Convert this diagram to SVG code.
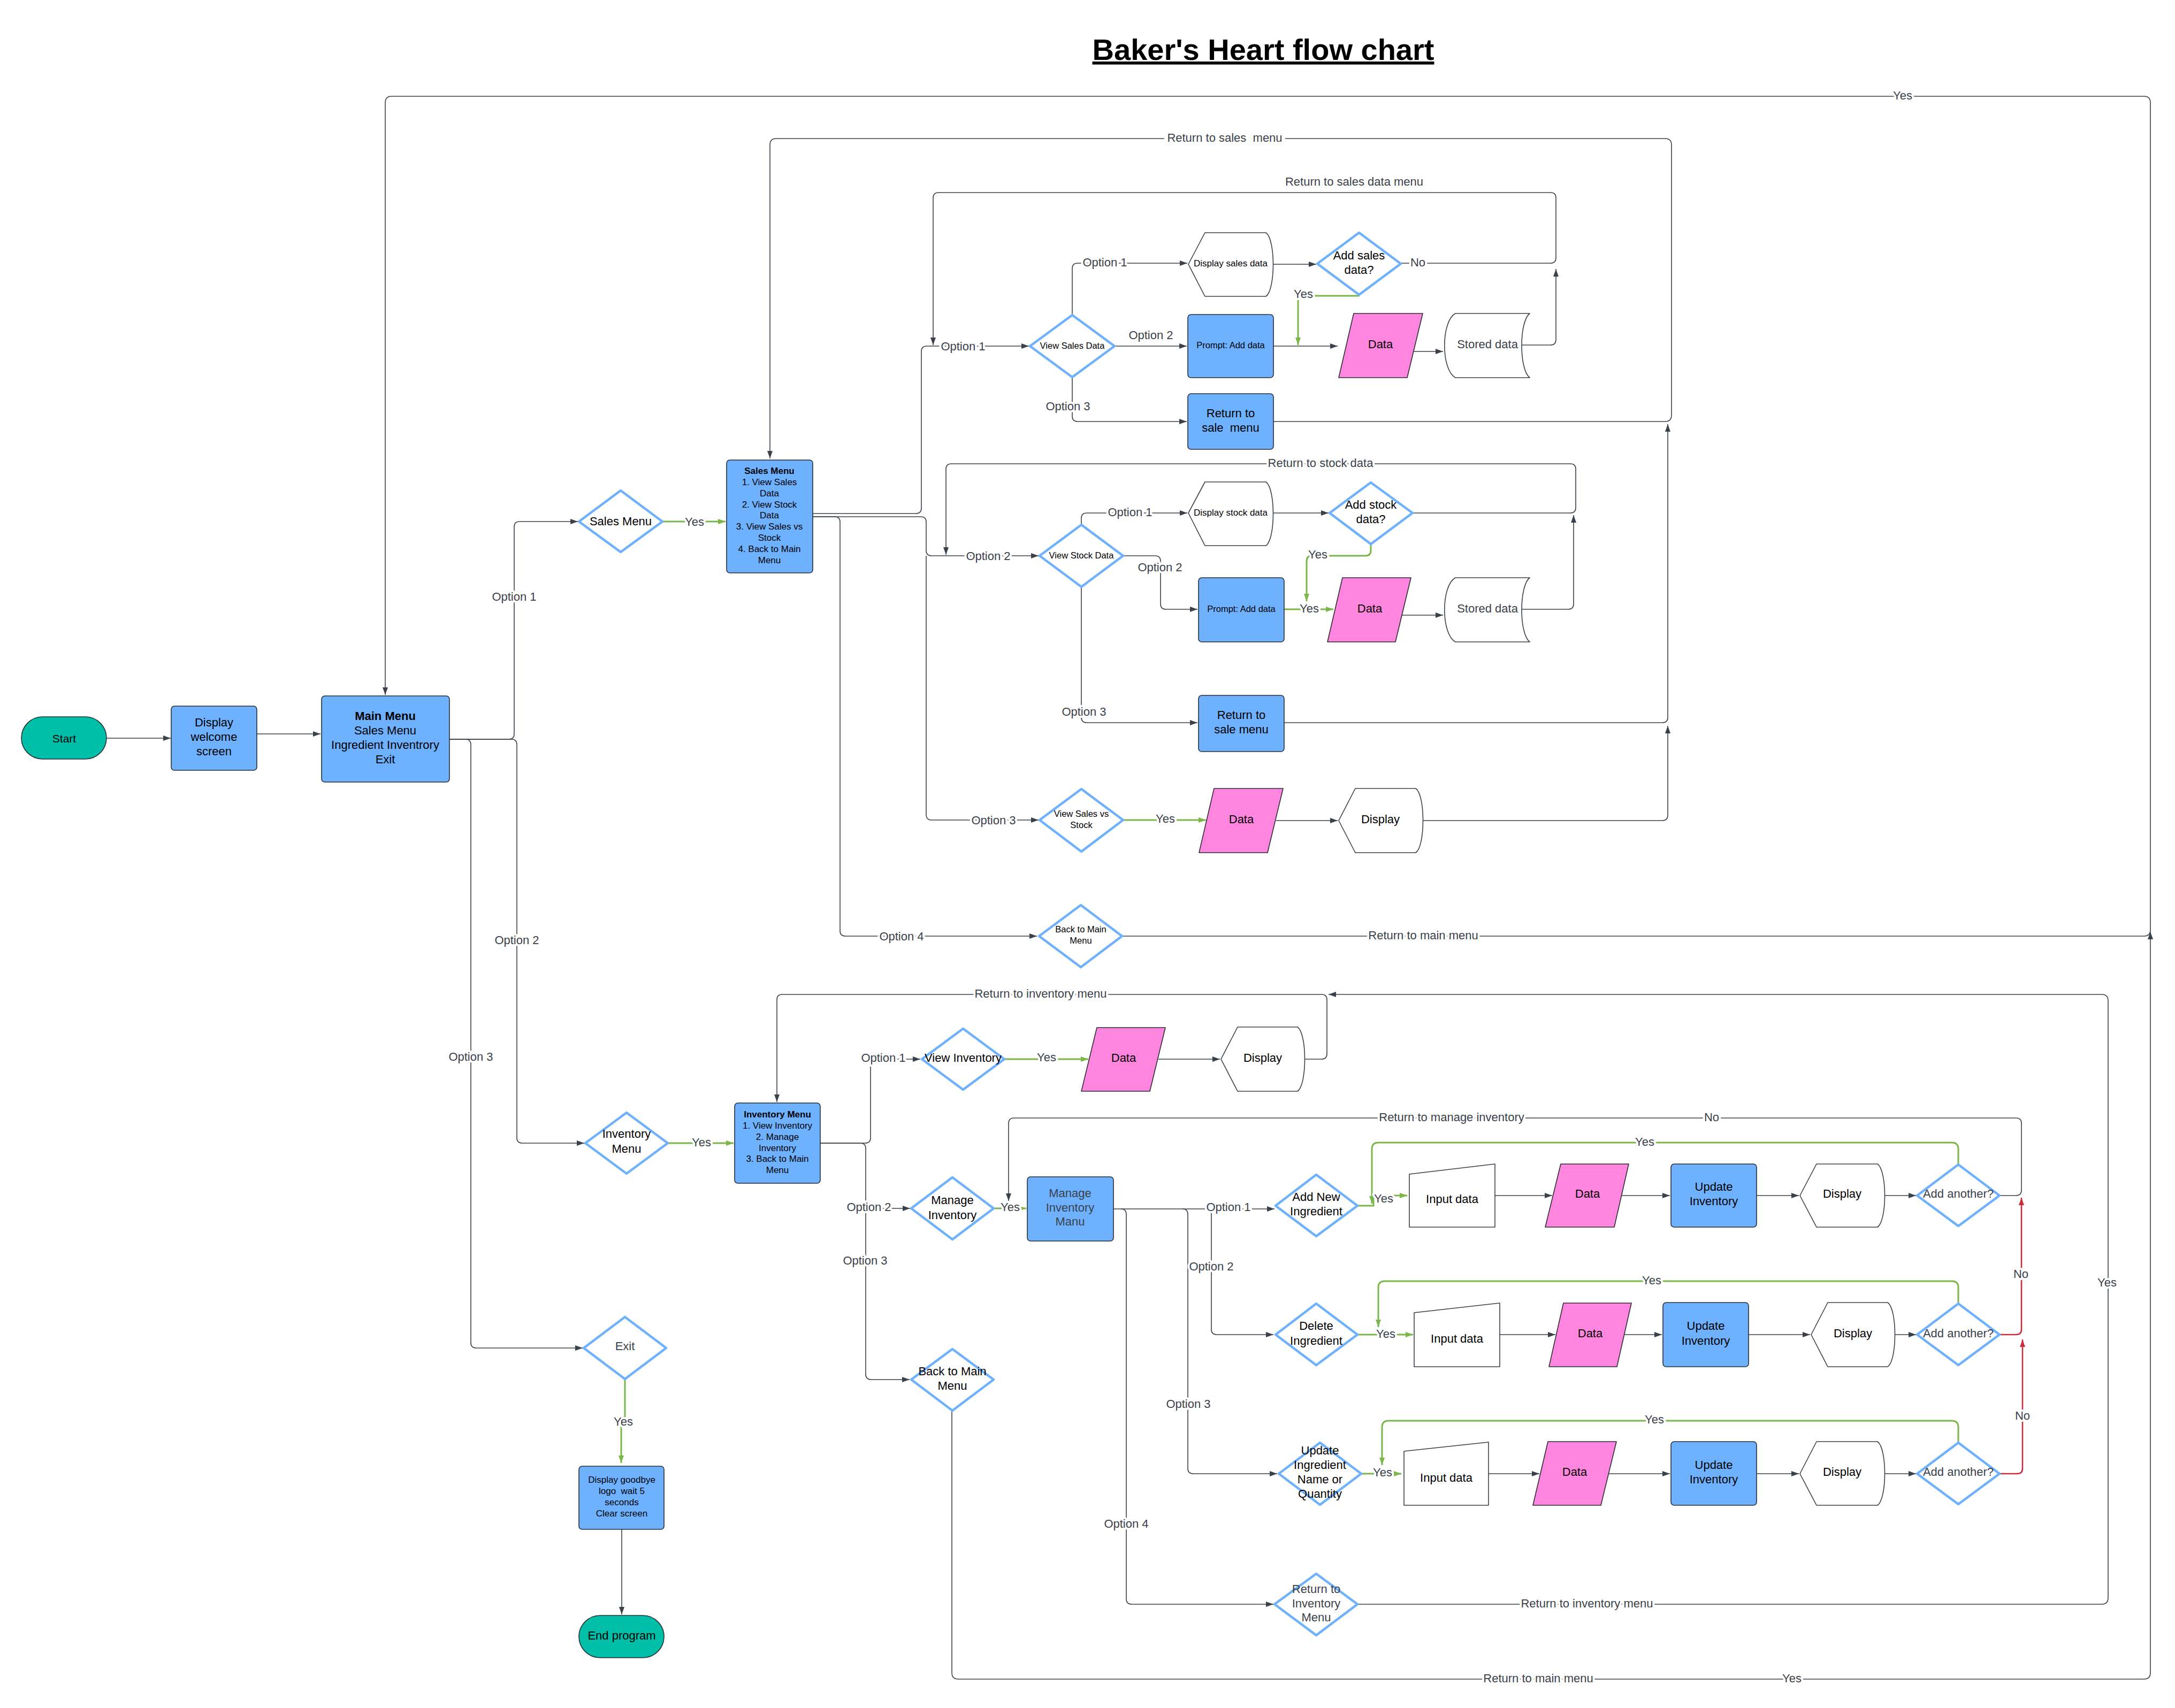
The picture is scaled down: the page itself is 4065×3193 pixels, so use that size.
<svg xmlns="http://www.w3.org/2000/svg" width="4065" height="3193" viewBox="0 0 4065 3193">
<style>
.ln{fill:none;stroke:#3a414a;stroke-width:1.6}
.gr{fill:none;stroke:#7ab648;stroke-width:3}
.rd{fill:none;stroke:#c92d39;stroke-width:2.6}
.box{fill:#6db1ff;stroke:#2b2f36;stroke-width:1.6}
.dia{fill:#fff;stroke:#6db1ff;stroke-width:4.5;stroke-linejoin:round}
.pink{fill:#ff85df;stroke:#2b2f36;stroke-width:1.6;stroke-linejoin:round}
.term{fill:#00bfa8;stroke:#2b2f36;stroke-width:1.6}
.wht{fill:#fff;stroke:#3a414a;stroke-width:1.6;stroke-linejoin:round}
text{font-family:"Liberation Sans",Arial,sans-serif;text-anchor:middle;dominant-baseline:central;fill:#000}
.t22{font-size:22px}
.t17{font-size:17px}
.t16{font-size:16.5px}
.g{fill:#3a414a}
.b{font-weight:bold}
.lbl{font-size:22px;fill:#3a414a;stroke:#fff;stroke-width:8;paint-order:stroke;stroke-linejoin:round}
.lbn{font-size:22px;fill:#3a414a}
.title{font-size:56px;font-weight:bold;text-decoration:underline;dominant-baseline:alphabetic}
</style>
<defs>
<marker id="ad" viewBox="0 0 14 10" refX="14" refY="5" markerWidth="14" markerHeight="10" markerUnits="userSpaceOnUse" orient="auto"><path d="M0,0 L14,5 L0,10 Z" fill="#3a414a"/></marker>
<marker id="ag" viewBox="0 0 14 10" refX="14" refY="5" markerWidth="14" markerHeight="10" markerUnits="userSpaceOnUse" orient="auto"><path d="M0,0 L14,5 L0,10 Z" fill="#7ab648"/></marker>
<marker id="ar" viewBox="0 0 14 10" refX="14" refY="5" markerWidth="14" markerHeight="10" markerUnits="userSpaceOnUse" orient="auto"><path d="M0,0 L14,5 L0,10 Z" fill="#c92d39"/></marker>
</defs>
<rect width="4065" height="3193" fill="#fff"/>
<text id="title" class="title" x="2361" y="112">Baker's Heart flow chart</text>

<g id="connectors">
<path class="ln" marker-end="url(#ad)" d="M199,1380 H319"/>
<path class="ln" marker-end="url(#ad)" d="M480,1372 H599"/>
<path class="ln" marker-end="url(#ad)" d="M840,1382 H951 Q961,1382 961,1372 V985 Q961,975 971,975 H1080"/>
<path class="ln" marker-end="url(#ad)" d="M840,1382 H956 Q966,1382 966,1392 V2127 Q966,2137 976,2137 H1092"/>
<path class="ln" marker-end="url(#ad)" d="M840,1382 H870 Q880,1382 880,1392 V2510 Q880,2520 890,2520 H1089"/>
<path class="gr" marker-end="url(#ag)" d="M1238,975 H1356"/>
<path class="ln" marker-end="url(#ad)" d="M1519,960 H1712 Q1722,960 1722,950 V657 Q1722,647 1732,647 H1923"/>
<path class="ln" marker-end="url(#ad)" d="M1519,966 H1721 Q1731,966 1731,976 V1029 Q1731,1039 1741,1039 H1941"/>
<path class="ln" marker-end="url(#ad)" d="M1731,1039 V1523 Q1731,1533 1741,1533 H1941"/>
<path class="ln" marker-end="url(#ad)" d="M1519,966 H1560 Q1570,966 1570,976 V1740 Q1570,1750 1580,1750 H1938"/>
<path class="ln" marker-end="url(#ad)" d="M2004,588 V502 Q2004,492 2014,492 H2219"/>
<path class="ln" marker-end="url(#ad)" d="M2083,647 H2218"/>
<path class="ln" marker-end="url(#ad)" d="M2004,705 V778 Q2004,788 2014,788 H2218"/>
<path class="ln" marker-end="url(#ad)" d="M2380,494 H2460"/>
<path class="ln" marker-end="url(#ad)" d="M2618,492 H2898 Q2908,492 2908,482 V370 Q2908,360 2898,360 H1754 Q1744,360 1744,370 V645"/>
<path class="gr" marker-end="url(#ag)" d="M2541,553 H2436 Q2426,553 2426,563 V645"/>
<path class="ln" marker-end="url(#ad)" d="M2380,647 H2500"/>
<path class="ln" marker-end="url(#ad)" d="M2642,657 H2697"/>
<path class="ln" marker-end="url(#ad)" d="M2844,645 H2898 Q2908,645 2908,635 V503"/>
<path class="ln" marker-end="url(#ad)" d="M2380,788 H3112 Q3124,788 3124,776 V271 Q3124,259 3112,259 H1451 Q1439,259 1439,271 V857"/>
<path class="ln" marker-end="url(#ad)" d="M2021,981 V969 Q2021,959 2031,959 H2219"/>
<path class="ln" marker-end="url(#ad)" d="M2099,1039 H2159 Q2169,1039 2169,1049 V1129 Q2169,1139 2179,1139 H2238"/>
<path class="ln" marker-end="url(#ad)" d="M2021,1097 V1341 Q2021,1351 2031,1351 H2238"/>
<path class="ln" marker-end="url(#ad)" d="M2380,959 H2483"/>
<path class="ln" marker-end="url(#ad)" d="M2640,959 H2935 Q2945,959 2945,949 V877 Q2945,867 2935,867 H1778 Q1768,867 1768,877 V1037"/>
<path class="gr" marker-end="url(#ag)" d="M2562,1017 V1029 Q2562,1039 2552,1039 H2452 Q2442,1039 2442,1049 V1124"/>
<path class="gr" marker-end="url(#ag)" d="M2400,1139 H2492"/>
<path class="ln" marker-end="url(#ad)" d="M2620,1150 H2697"/>
<path class="ln" marker-end="url(#ad)" d="M2844,1139 H2931 Q2941,1139 2941,1129 V963"/>
<path class="ln" marker-end="url(#ad)" d="M2400,1351 H3107 Q3117,1351 3117,1341 V793"/>
<path class="gr" marker-end="url(#ag)" d="M2099,1533 H2254"/>
<path class="ln" marker-end="url(#ad)" d="M2385,1534 H2500"/>
<path class="ln" marker-end="url(#ad)" d="M2660,1534 H3107 Q3117,1534 3117,1524 V1357"/>
<path class="ln" marker-end="url(#ad)" d="M2097,1750 H4007 Q4019,1750 4019,1738 V192 Q4019,180 4007,180 H732 Q720,180 720,192 V1299"/>
<path class="gr" marker-end="url(#ag)" d="M1248,2137 H1371"/>
<path class="ln" marker-end="url(#ad)" d="M1533,2137 H1617 Q1627,2137 1627,2127 V1990 Q1627,1980 1637,1980 H1720"/>
<path class="ln" marker-end="url(#ad)" d="M1533,2137 H1608 Q1618,2137 1618,2147 V2259 H1701"/>
<path class="ln" marker-end="url(#ad)" d="M1618,2259 V2569 Q1618,2579 1628,2579 H1700"/>
<path class="gr" marker-end="url(#ag)" d="M1877,1980 H2034"/>
<path class="ln" marker-end="url(#ad)" d="M2165,1980 H2280"/>
<path class="ln" marker-end="url(#ad)" d="M2439,1980 H2470 Q2480,1980 2480,1970 V1869 Q2480,1859 2470,1859 H1462 Q1452,1859 1452,1869 V2060"/>
<path class="gr" marker-end="url(#ag)" d="M1857,2259 H1918"/>
<path class="ln" marker-end="url(#ad)" d="M3737,2235 H3768 Q3778,2235 3778,2225 V2100 Q3778,2090 3768,2090 H1895 Q1885,2090 1885,2100 V2245"/>
<path class="ln" marker-end="url(#ad)" d="M2081,2260 H2382"/>
<path class="ln" marker-end="url(#ad)" d="M2254,2260 Q2264,2260 2264,2270 V2485 Q2264,2495 2274,2495 H2380"/>
<path class="ln" marker-end="url(#ad)" d="M2210,2260 Q2220,2260 2220,2270 V2745 Q2220,2755 2230,2755 H2387"/>
<path class="ln" marker-end="url(#ad)" d="M2095,2260 Q2105,2260 2105,2270 V2989 Q2105,2999 2115,2999 H2380"/>
<path class="gr" marker-end="url(#ag)" d="M2537,2254 H2567 V2235 H2630"/>
<path class="gr" marker-end="url(#ag)" d="M3660,2177 V2148 Q3660,2136 3648,2136 H2576 Q2564,2136 2564,2148 V2250"/>
<path class="ln" marker-end="url(#ad)" d="M2794,2235 H2901"/>
<path class="ln" marker-end="url(#ad)" d="M3030,2235 H3121"/>
<path class="ln" marker-end="url(#ad)" d="M3283,2235 H3362"/>
<path class="ln" marker-end="url(#ad)" d="M3523,2235 H3581"/>
<path class="gr" marker-end="url(#ag)" d="M2537,2495 H2641"/>
<path class="gr" marker-end="url(#ag)" d="M3660,2437 V2407 Q3660,2395 3648,2395 H2588 Q2576,2395 2576,2407 V2481"/>
<path class="ln" marker-end="url(#ad)" d="M2803,2495 H2907"/>
<path class="ln" marker-end="url(#ad)" d="M3035,2495 H3106"/>
<path class="ln" marker-end="url(#ad)" d="M3268,2495 H3383"/>
<path class="ln" marker-end="url(#ad)" d="M3542,2495 H3581"/>
<path class="rd" marker-end="url(#ar)" d="M3737,2495 H3768 Q3778,2495 3778,2485 V2239"/>
<path class="gr" marker-end="url(#ag)" d="M2544,2755 H2619"/>
<path class="gr" marker-end="url(#ag)" d="M3660,2696 V2668 Q3660,2656 3648,2656 H2595 Q2583,2656 2583,2668 V2739"/>
<path class="ln" marker-end="url(#ad)" d="M2782,2755 H2877"/>
<path class="ln" marker-end="url(#ad)" d="M3007,2755 H3121"/>
<path class="ln" marker-end="url(#ad)" d="M3283,2755 H3362"/>
<path class="ln" marker-end="url(#ad)" d="M3523,2755 H3581"/>
<path class="rd" marker-end="url(#ar)" d="M3737,2755 H3770 Q3780,2755 3780,2745 V2504"/>
<path class="ln" marker-end="url(#ad)" d="M2537,2999 H3928 Q3940,2999 3940,2987 V1871 Q3940,1859 3928,1859 H2483"/>
<path class="ln" marker-end="url(#ad)" d="M1779,2637 V3127 Q1779,3139 1791,3139 H4007 Q4019,3139 4019,3127 V1742"/>
<path class="gr" marker-end="url(#ag)" d="M1168,2578 V2650 H1161 V2735"/>
<path class="ln" marker-end="url(#ad)" d="M1162,2859 V3018"/>

<text class="lbl" x="961" y="1115">Option 1</text>
<text class="lbl" x="966" y="1757">Option 2</text>
<text class="lbl" x="880" y="1975">Option 3</text>
<text class="lbl" x="1298" y="975">Yes</text>
<text class="lbl" x="1800" y="647">Option 1</text>
<text class="lbl" x="1847" y="1039">Option 2</text>
<text class="lbl" x="1857" y="1533">Option 3</text>
<text class="lbl" x="1685" y="1750">Option 4</text>
<text class="lbl" x="2065" y="490">Option 1</text>
<text class="lbn" x="2151" y="626">Option 2</text>
<text class="lbl" x="1996" y="759">Option 3</text>
<text class="lbl" x="2650" y="490">No</text>
<text class="lbn" x="2531" y="339">Return to sales data menu</text>
<text class="lbl" x="2436" y="549">Yes</text>
<rect x="2176" y="245" width="226" height="26" fill="#fff"/>
<text class="lbl" x="2289" y="257" xml:space="preserve">Return to sales  menu</text>
<text class="lbl" x="2112" y="957">Option 1</text>
<text class="lbl" x="2168" y="1060">Option 2</text>
<text class="lbl" x="2026" y="1330">Option 3</text>
<text class="lbl" x="2468" y="865">Return to stock data</text>
<text class="lbl" x="2463" y="1036">Yes</text>
<text class="lbl" x="2447" y="1137">Yes</text>
<text class="lbl" x="2178" y="1530">Yes</text>
<text class="lbl" x="2660" y="1748">Return to main menu</text>
<text class="lbl" x="3556" y="178">Yes</text>
<text class="lbl" x="1311" y="2135">Yes</text>
<text class="lbl" x="1651" y="1977">Option 1</text>
<text class="lbl" x="1624" y="2256">Option 2</text>
<text class="lbl" x="1617" y="2356">Option 3</text>
<text class="lbl" x="1956" y="1976">Yes</text>
<text class="lbl" x="1945" y="1857">Return to inventory menu</text>
<text class="lbl" x="1888" y="2256">Yes</text>
<text class="lbl" x="2713" y="2088">Return to manage inventory</text>
<text class="lbl" x="3199" y="2088">No</text>
<text class="lbl" x="2296" y="2256">Option 1</text>
<text class="lbl" x="2264" y="2367">Option 2</text>
<text class="lbl" x="2221" y="2624">Option 3</text>
<text class="lbl" x="2105" y="2848">Option 4</text>
<text class="lbl" x="2586" y="2240">Yes</text>
<text class="lbl" x="3074" y="2134">Yes</text>
<text class="lbl" x="2590" y="2493">Yes</text>
<text class="lbl" x="3087" y="2393">Yes</text>
<text class="lbl" x="3777" y="2381">No</text>
<text class="lbl" x="2584" y="2752">Yes</text>
<text class="lbl" x="3092" y="2653">Yes</text>
<text class="lbl" x="3780" y="2646">No</text>
<text class="lbl" x="2966" y="2997">Return to inventory menu</text>
<text class="lbl" x="3938" y="2397">Yes</text>
<text class="lbl" x="2875" y="3137">Return to main menu</text>
<text class="lbl" x="3349" y="3137">Yes</text>
<text class="lbl" x="1165" y="2657">Yes</text>
</g>

<g id="start"><rect class="term" x="40" y="1340" width="159" height="79" rx="39.5"/><text class="t22" x="120" y="1380" style="font-size:21px">Start</text></g>
<g id="welcome"><rect class="box" x="320" y="1320" width="160" height="120" rx="6"/><text class="t22" x="400" y="1350">Display</text><text class="t22" x="400" y="1377">welcome</text><text class="t22" x="400" y="1404">screen</text></g>
<g id="main-menu"><rect class="box" x="601" y="1301" width="239" height="161" rx="6"/><text class="t22 b" x="720" y="1338">Main Menu</text><text class="t22" x="720" y="1365">Sales Menu</text><text class="t22" x="720" y="1392">Ingredient Inventrory</text><text class="t22" x="720" y="1419">Exit</text></g>

<g id="sales-menu-decision"><path class="dia" d="M1082,975 L1160,917 L1238,975 L1160,1032 Z"/><text class="t22" x="1160" y="974">Sales Menu</text></g>
<g id="sales-menu"><rect class="box" x="1358" y="860" width="161" height="211" rx="6"/>
<text class="t17 b" x="1438" y="880">Sales Menu</text><text class="t17" x="1438" y="901">1. View Sales</text><text class="t17" x="1438" y="922">Data</text><text class="t17" x="1438" y="943">2. View Stock</text><text class="t17" x="1438" y="963">Data</text><text class="t17" x="1438" y="984">3. View Sales vs</text><text class="t17" x="1438" y="1005">Stock</text><text class="t17" x="1438" y="1026">4. Back to Main</text><text class="t17" x="1438" y="1047">Menu</text></g>

<g id="view-sales-data"><path class="dia" d="M1925,647 L2004,589 L2083,647 L2004,705 Z"/><text class="t16" x="2004" y="646">View Sales Data</text></g>
<g id="display-sales-data"><path class="wht" d="M2221,494 L2252,435 H2366 C2384,447 2384,542 2366,554 H2252 Z"/><text class="t17" x="2300" y="492">Display sales data</text></g>
<g id="add-sales-data"><path class="dia" d="M2462,493 L2540,435 L2618,493 L2540,551 Z"/><text class="t22" x="2540" y="477">Add sales</text><text class="t22" x="2540" y="504">data?</text></g>
<g id="prompt-sales"><rect class="box" x="2220" y="588" width="160" height="118" rx="6"/><text class="t16" x="2300" y="645">Prompt: Add data</text></g>
<g id="data-sales"><path class="pink" d="M2530,586 H2659 L2630,706 H2502 Z"/><text class="t22" x="2580" y="643">Data</text></g>
<g id="stored-sales"><path class="wht" d="M2720,586 H2859 C2839,601 2839,691 2859,706 H2720 C2693,691 2693,601 2720,586 Z"/><text class="t22 g" x="2780" y="643">Stored data</text></g>
<g id="return-sale-menu-1"><rect class="box" x="2220" y="736" width="160" height="104" rx="6"/><text class="t22" x="2300" y="772">Return to</text><text class="t22" x="2300" y="799" xml:space="preserve">sale  menu</text></g>

<g id="view-stock-data"><path class="dia" d="M1943,1039 L2021,981 L2099,1039 L2021,1097 Z"/><text class="t16" x="2021" y="1038">View Stock Data</text></g>
<g id="display-stock-data"><path class="wht" d="M2221,959 L2252,901 H2366 C2384,913 2384,1008 2366,1020 H2252 Z"/><text class="t17" x="2300" y="958">Display stock data</text></g>
<g id="add-stock-data"><path class="dia" d="M2485,959 L2562,902 L2640,959 L2562,1017 Z"/><text class="t22" x="2562" y="943">Add stock</text><text class="t22" x="2562" y="970">data?</text></g>
<g id="prompt-stock"><rect class="box" x="2240" y="1080" width="160" height="120" rx="6"/><text class="t16" x="2320" y="1138">Prompt: Add data</text></g>
<g id="data-stock"><path class="pink" d="M2509,1080 H2637 L2608,1200 H2481 Z"/><text class="t22" x="2560" y="1137">Data</text></g>
<g id="stored-stock"><path class="wht" d="M2720,1080 H2859 C2839,1095 2839,1185 2859,1200 H2720 C2693,1185 2693,1095 2720,1080 Z"/><text class="t22 g" x="2780" y="1137">Stored data</text></g>
<g id="return-sale-menu-2"><rect class="box" x="2240" y="1300" width="160" height="105" rx="6"/><text class="t22" x="2320" y="1336">Return to</text><text class="t22" x="2320" y="1363">sale menu</text></g>

<g id="view-sales-vs-stock"><path class="dia" d="M1943,1533 L2021,1475 L2099,1533 L2021,1592 Z"/><text class="t16" x="2021" y="1521">View Sales vs</text><text class="t16" x="2021" y="1542">Stock</text></g>
<g id="data-svs"><path class="pink" d="M2269,1474 H2398 L2369,1594 H2241 Z"/><text class="t22" x="2320" y="1531">Data</text></g>
<g id="display-svs"><path class="wht" d="M2502,1534 L2533,1474 H2646 C2664,1486 2664,1582 2646,1594 H2533 Z"/><text class="t22" x="2580" y="1531">Display</text></g>
<g id="back-main-sales"><path class="dia" d="M1942,1750 L2020,1692 L2097,1750 L2020,1808 Z"/><text class="t16" x="2020" y="1737">Back to Main</text><text class="t16" x="2020" y="1758">Menu</text></g>

<g id="inventory-decision"><path class="dia" d="M1094,2137 L1171,2080 L1248,2137 L1171,2194 Z"/><text class="t22" x="1171" y="2119">Inventory</text><text class="t22" x="1171" y="2147">Menu</text></g>
<g id="inventory-menu"><rect class="box" x="1373" y="2062" width="160" height="150" rx="6"/>
<text class="t17 b" x="1453" y="2083">Inventory Menu</text><text class="t17" x="1453" y="2104">1. View Inventory</text><text class="t17" x="1453" y="2125">2. Manage</text><text class="t17" x="1453" y="2146">Inventory</text><text class="t17" x="1453" y="2166">3. Back to Main</text><text class="t17" x="1453" y="2187">Menu</text></g>
<g id="view-inventory"><path class="dia" d="M1723,1980 L1800,1923 L1877,1980 L1800,2037 Z"/><text class="t22" x="1800" y="1977">View Inventory</text></g>
<g id="data-inv"><path class="pink" d="M2050,1921 H2178 L2149,2040 H2021 Z"/><text class="t22" x="2100" y="1977">Data</text></g>
<g id="display-inv"><path class="wht" d="M2282,1980 L2313,1920 H2425 C2443,1932 2443,2028 2425,2040 H2313 Z"/><text class="t22" x="2360" y="1977">Display</text></g>
<g id="manage-inventory"><path class="dia" d="M1703,2259 L1780,2201 L1857,2259 L1780,2317 Z"/><text class="t22" x="1780" y="2243">Manage</text><text class="t22" x="1780" y="2271">Inventory</text></g>
<g id="manage-inventory-manu"><rect class="box" x="1920" y="2200" width="161" height="120" rx="6"/><text class="t22 g" x="2000" y="2230">Manage</text><text class="t22 g" x="2000" y="2257">Inventory</text><text class="t22 g" x="2000" y="2283">Manu</text></g>
<g id="back-main-inv"><path class="dia" d="M1703,2579 L1780,2522 L1857,2579 L1780,2637 Z"/><text class="t22" x="1780" y="2563">Back to Main</text><text class="t22" x="1780" y="2590">Menu</text></g>

<g id="exit"><path class="dia" d="M1091,2520 L1168,2462 L1245,2520 L1168,2578 Z"/><text class="t22 g" x="1168" y="2516">Exit</text></g>
<g id="goodbye"><rect class="box" x="1082" y="2741" width="159" height="118" rx="6"/><text class="t17" x="1162" y="2766">Display goodbye</text><text class="t17" x="1162" y="2787" xml:space="preserve">logo  wait 5</text><text class="t17" x="1162" y="2808">seconds</text><text class="t17" x="1162" y="2829">Clear screen</text></g>
<g id="end-program"><rect class="term" x="1082" y="3020" width="159" height="79" rx="39.5"/><text class="t22" x="1162" y="3057">End program</text></g>

<g id="add-new-ingredient"><path class="dia" d="M2384,2254 L2460,2196 L2537,2254 L2460,2311 Z"/><text class="t22" x="2460" y="2237">Add New</text><text class="t22" x="2460" y="2264">Ingredient</text></g>
<g id="input-1"><path class="wht" d="M2634,2195 L2794,2176 V2294 H2634 Z"/><text class="t22" x="2714" y="2241">Input data</text></g>
<g id="data-1"><path class="pink" d="M2917,2176 H3044 L3017,2294 H2888 Z"/><text class="t22" x="2967" y="2231">Data</text></g>
<g id="update-1"><rect class="box" x="3123" y="2176" width="160" height="118" rx="6"/><text class="t22" x="3203" y="2218">Update</text><text class="t22" x="3203" y="2245">Inventory</text></g>
<g id="display-1"><path class="wht" d="M3364,2235 L3395,2176 H3509 C3527,2188 3527,2282 3509,2294 H3395 Z"/><text class="t22" x="3443" y="2231">Display</text></g>
<g id="add-another-1"><path class="dia" d="M3583,2235 L3660,2177 L3737,2235 L3660,2292 Z"/><text class="t22 g" x="3660" y="2231">Add another?</text></g>

<g id="delete-ingredient"><path class="dia" d="M2384,2495 L2460,2437 L2537,2495 L2460,2552 Z"/><text class="t22" x="2460" y="2478">Delete</text><text class="t22" x="2460" y="2506">Ingredient</text></g>
<g id="input-2"><path class="wht" d="M2643,2454 L2803,2436 V2555 H2643 Z"/><text class="t22" x="2723" y="2502">Input data</text></g>
<g id="data-2"><path class="pink" d="M2922,2436 H3049 L3022,2555 H2895 Z"/><text class="t22" x="2972" y="2492">Data</text></g>
<g id="update-2"><rect class="box" x="3108" y="2435" width="160" height="120" rx="6"/><text class="t22" x="3188" y="2478">Update</text><text class="t22" x="3188" y="2506">Inventory</text></g>
<g id="display-2"><path class="wht" d="M3385,2495 L3416,2435 H3528 C3546,2447 3546,2543 3528,2555 H3416 Z"/><text class="t22" x="3463" y="2492">Display</text></g>
<g id="add-another-2"><path class="dia" d="M3583,2495 L3660,2437 L3737,2495 L3660,2552 Z"/><text class="t22 g" x="3660" y="2492">Add another?</text></g>

<g id="update-ingredient"><path class="dia" d="M2390,2755 L2467,2697 L2544,2755 L2467,2813 Z"/><text class="t22" x="2467" y="2711">Update</text><text class="t22" x="2467" y="2738">Ingredient</text><text class="t22" x="2467" y="2765">Name or</text><text class="t22" x="2467" y="2792">Quantity</text></g>
<g id="input-3"><path class="wht" d="M2624,2713 L2782,2696 V2814 H2624 Z"/><text class="t22" x="2703" y="2762">Input data</text></g>
<g id="data-3"><path class="pink" d="M2893,2695 H3021 L2992,2814 H2865 Z"/><text class="t22" x="2943" y="2751">Data</text></g>
<g id="update-3"><rect class="box" x="3123" y="2695" width="160" height="119" rx="6"/><text class="t22" x="3203" y="2738">Update</text><text class="t22" x="3203" y="2765">Inventory</text></g>
<g id="display-3"><path class="wht" d="M3364,2755 L3395,2695 H3509 C3527,2707 3527,2802 3509,2814 H3395 Z"/><text class="t22" x="3443" y="2751">Display</text></g>
<g id="add-another-3"><path class="dia" d="M3583,2755 L3660,2697 L3737,2755 L3660,2812 Z"/><text class="t22 g" x="3660" y="2751">Add another?</text></g>

<g id="return-inventory-menu"><path class="dia" d="M2382,2999 L2460,2942 L2537,2999 L2460,3057 Z"/><text class="t22 g" x="2460" y="2970">Return to</text><text class="t22 g" x="2460" y="2997">Inventory</text><text class="t22 g" x="2460" y="3023">Menu</text></g>
</svg>
